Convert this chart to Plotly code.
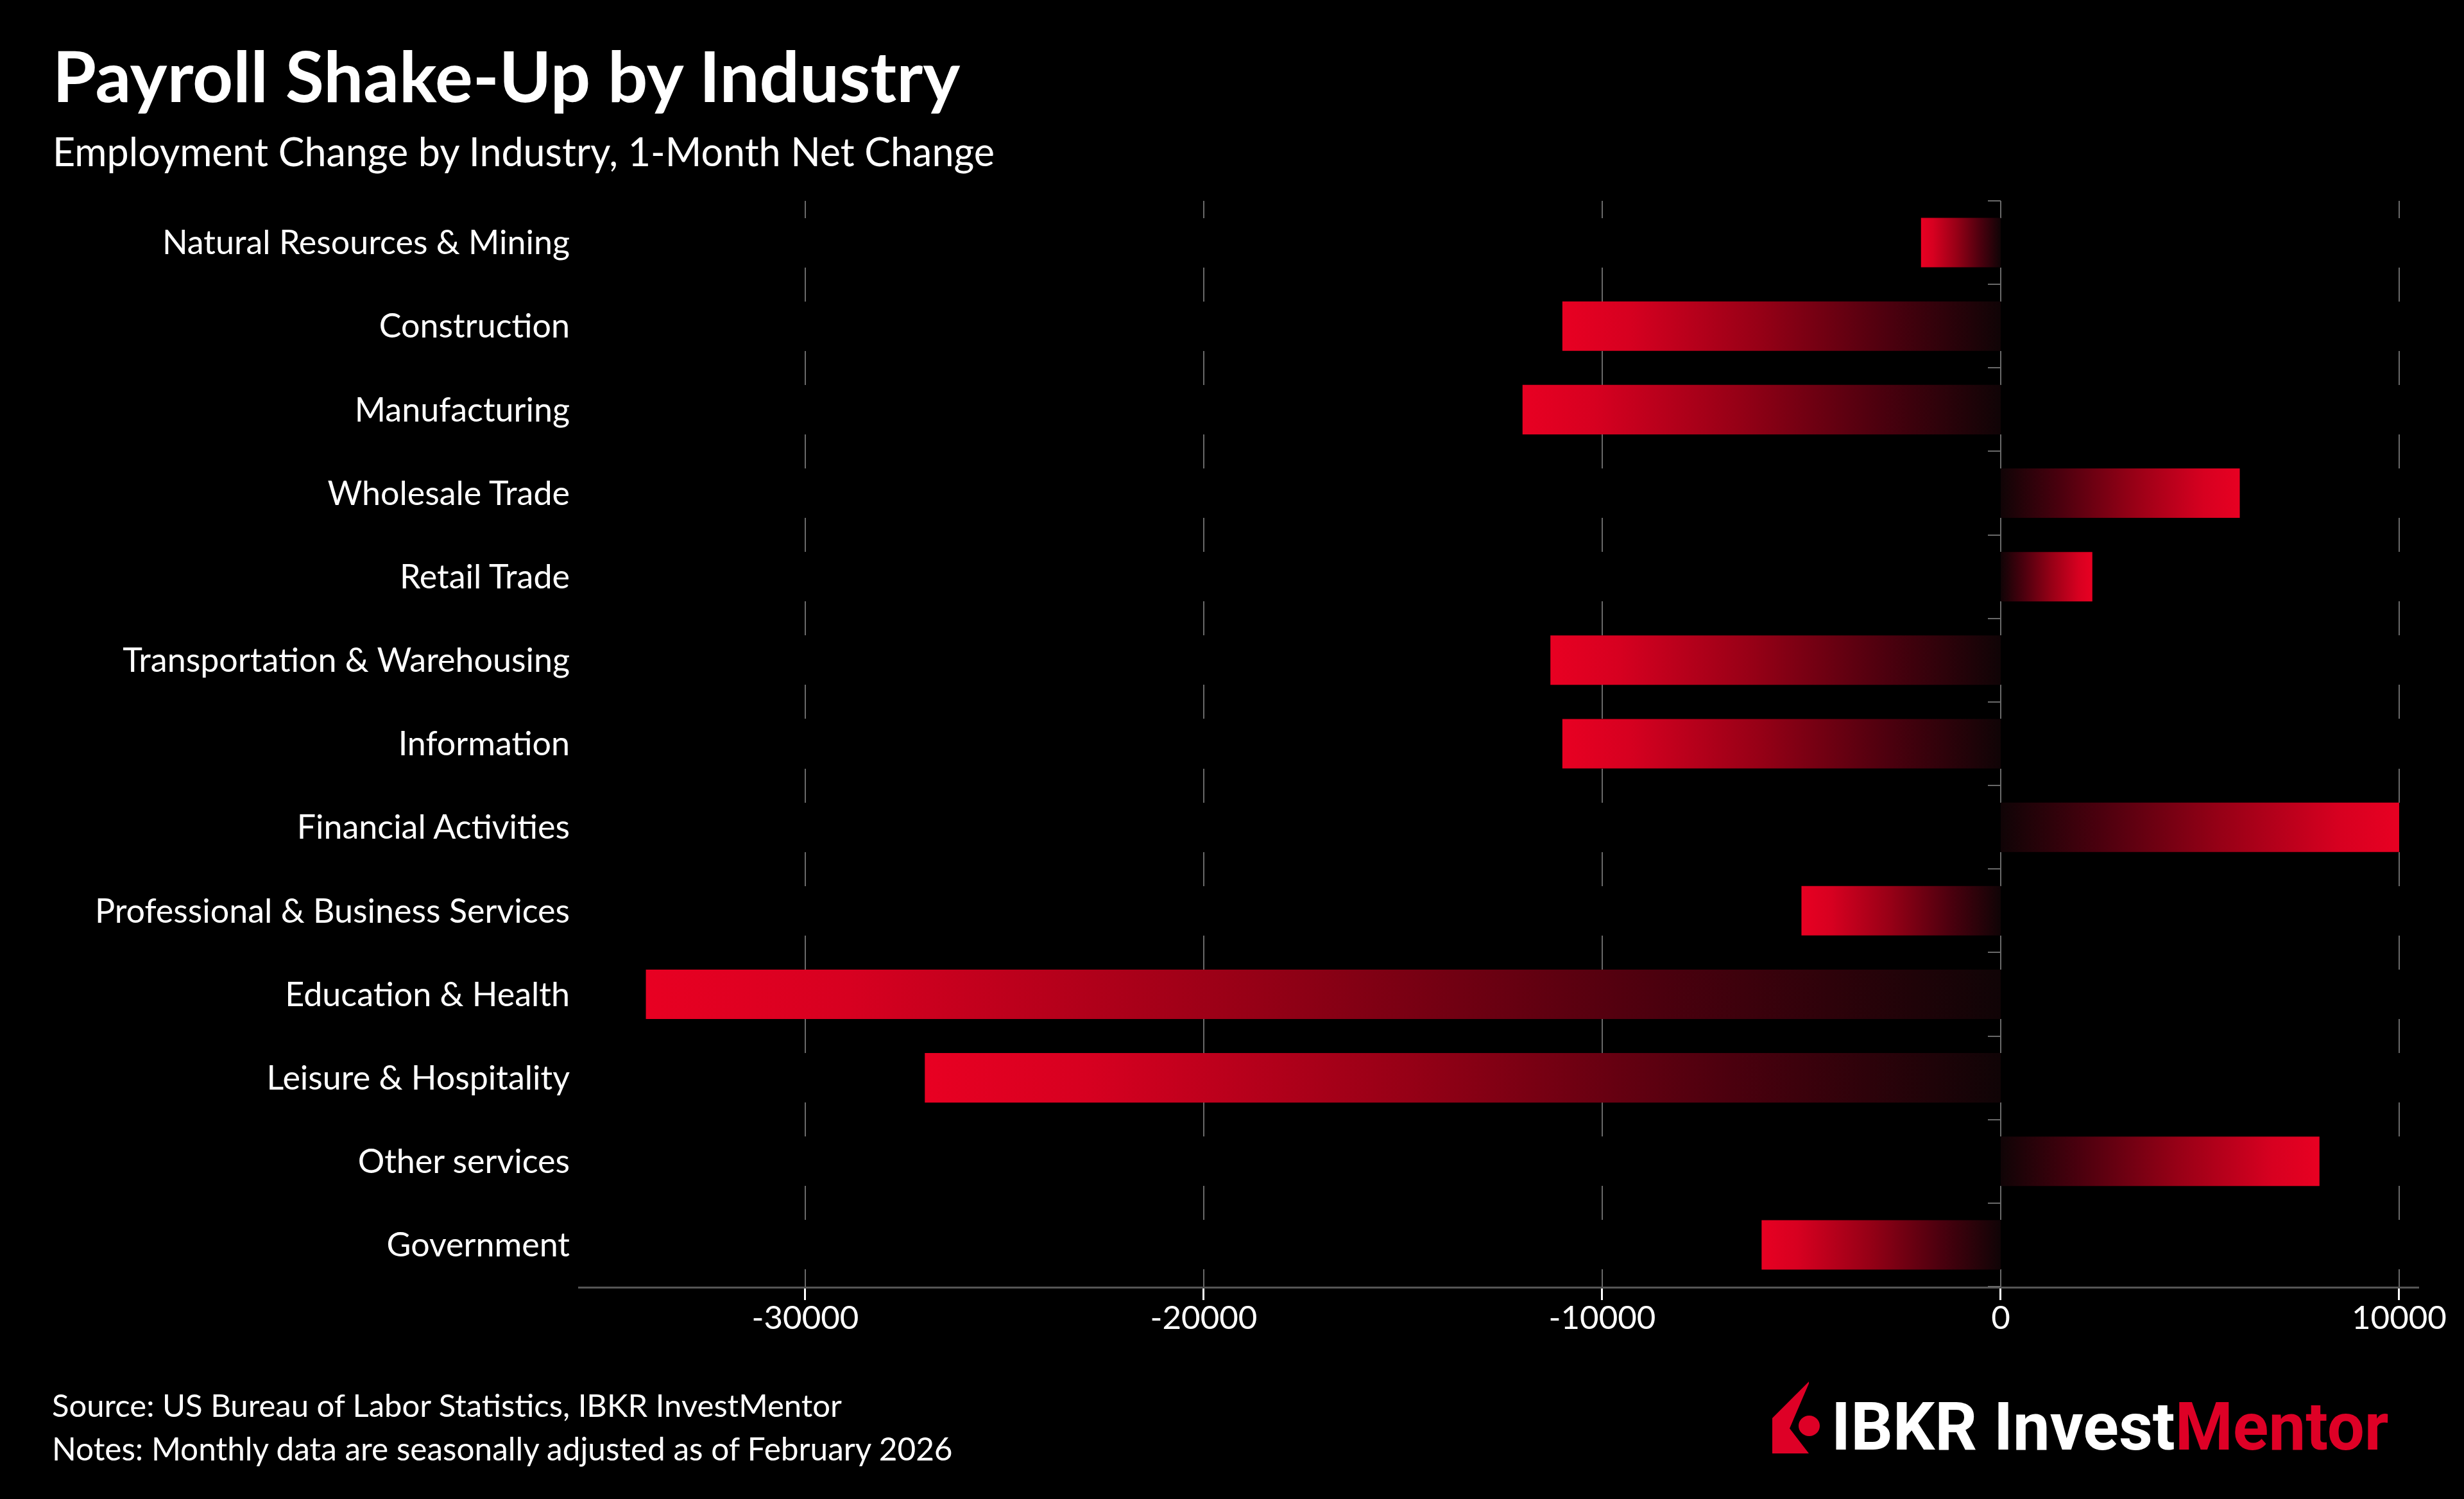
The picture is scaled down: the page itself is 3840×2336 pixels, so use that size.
import plotly.graph_objects as go

# ---------------- data ----------------
categories = [
    "Natural Resources & Mining",
    "Construction",
    "Manufacturing",
    "Wholesale Trade",
    "Retail Trade",
    "Transportation & Warehousing",
    "Information",
    "Financial Activities",
    "Professional & Business Services",
    "Education & Health",
    "Leisure & Hospitality",
    "Other services",
    "Government",
]
net_change = [-2000, -11000, -12000, 6000, 2300, -11300, -11000, 10000, -5000, -34000, -27000, 8000, -6000]
x_tick_values = [-30000, -20000, -10000, 0, 10000]
x_tick_labels = ["-30000", "-20000", "-10000", "0", "10000"]

title_text = "Payroll Shake-Up by Industry"
subtitle_text = "Employment Change by Industry, 1-Month Net Change"
source_text = "Source: US Bureau of Labor Statistics, IBKR InvestMentor"
notes_text = "Notes: Monthly data are seasonally adjusted as of February 2026"

# ---------------- layout constants ----------------
W, H = 3840, 2336
M_L, M_R, M_T, M_B = 901, 70, 313, 331
X_RANGE = [-35700, 10500]
BAR_HALF = 0.296
FONT = "Lato"
RED = "rgb(232,0,34)"
DARK = "rgb(16,4,6)"
GRID = "rgb(105,105,105)"

n = len(categories)
plot_w = W - M_L - M_R
plot_h = H - M_T - M_B


def paper_x(px):
    return (px - M_L) / plot_w


def paper_y(py):
    return 1 - (py - M_T) / plot_h


POS_SCALE = [[0.0, DARK], [0.25, "rgb(75,0,14)"], [0.55, "rgb(150,0,22)"], [0.85, "rgb(215,0,32)"], [1.0, RED]]
NEG_SCALE = [[1 - s, c] for s, c in reversed(POS_SCALE)]

fig = go.Figure()

for i, (cat, v) in enumerate(zip(categories, net_change)):
    xs = [0, v, v, 0, 0]
    ys = [i - BAR_HALF, i - BAR_HALF, i + BAR_HALF, i + BAR_HALF, i - BAR_HALF]
    fig.add_trace(
        go.Scatter(
            x=xs,
            y=ys,
            mode="lines",
            line=dict(width=0, color="rgba(0,0,0,0)"),
            fill="toself",
            fillgradient=dict(type="horizontal", colorscale=POS_SCALE if v > 0 else NEG_SCALE),
            name=cat,
            hoverinfo="skip",
            showlegend=False,
        )
    )

# invisible trace to carry the boundary-tick axis at x = 0
fig.add_trace(
    go.Scatter(x=[0], y=[0], yaxis="y2", mode="markers", marker=dict(opacity=0),
               hoverinfo="skip", showlegend=False)
)

band = plot_h / n
bar_px = 2 * BAR_HALF * band
gap_px = band - bar_px
grid_dash = f"{gap_px / 2:.2f}px,{bar_px:.2f}px,{gap_px / 2:.2f}px,0px"

zero_frac = (0 - X_RANGE[0]) / (X_RANGE[1] - X_RANGE[0])

fig.update_layout(
    width=W,
    height=H,
    margin=dict(l=M_L, r=M_R, t=M_T, b=M_B, pad=0),
    paper_bgcolor="black",
    plot_bgcolor="black",
    font=dict(family=FONT, color="white"),
    xaxis=dict(
        range=X_RANGE,
        tickvals=x_tick_values,
        ticktext=x_tick_labels,
        showgrid=True,
        gridcolor=GRID,
        gridwidth=2,
        griddash=grid_dash,
        zeroline=False,
        showline=True,
        linecolor="rgb(85,85,85)",
        linewidth=3,
        ticks="outside",
        ticklen=18,
        tickwidth=3,
        tickcolor="white",
        ticklabelstandoff=-16,
        tickfont=dict(family=FONT, size=51, color="white"),
        fixedrange=True,
    ),
    yaxis=dict(
        range=[n - 0.5, -0.5],
        tickvals=list(range(n)),
        ticktext=categories,
        showgrid=False,
        zeroline=False,
        showline=False,
        ticks="",
        ticklabelstandoff=12,
        tickfont=dict(family=FONT, size=52, color="white"),
        fixedrange=True,
    ),
    yaxis2=dict(
        overlaying="y",
        anchor="free",
        position=zero_frac,
        side="left",
        range=[n - 0.5, -0.5],
        tickvals=[i - 0.5 for i in range(n + 1)],
        ticks="outside",
        ticklen=20,
        tickwidth=2,
        tickcolor=GRID,
        showticklabels=False,
        showgrid=False,
        zeroline=False,
        showline=False,
        fixedrange=True,
    ),
    showlegend=False,
)

annotations = [
    dict(text=title_text, x=paper_x(80), y=paper_y(116), xanchor="left", yanchor="middle",
         font=dict(family=FONT, size=110, color="white", weight=700)),
    dict(text=subtitle_text, x=paper_x(80), y=paper_y(235), xanchor="left", yanchor="middle",
         font=dict(family=FONT, size=61, color="white")),
    dict(text=source_text, x=paper_x(79), y=paper_y(2189), xanchor="left", yanchor="middle",
         font=dict(family=FONT, size=49, color="white")),
    dict(text=notes_text, x=paper_x(79), y=paper_y(2257), xanchor="left", yanchor="middle",
         font=dict(family=FONT, size=49.5, color="white")),
    dict(text="IBKR Invest<span style='color:rgb(222,0,38)'>Mentor</span>", x=paper_x(3725), y=paper_y(2223),
         xanchor="right", yanchor="middle",
         font=dict(family="Roboto", size=103, color="white", weight=700)),
]
for a in annotations:
    a.update(xref="paper", yref="paper", showarrow=False)
fig.update_layout(annotations=annotations)

# logo mark
icon = [(2819, 2153), (2762, 2210), (2762, 2265), (2819, 2265), (2789, 2226), (2819, 2156)]
path = "M " + " L ".join(f"{paper_x(px):.5f},{paper_y(py):.5f}" for px, py in icon) + " Z"
fig.add_shape(type="path", path=path, xref="paper", yref="paper", fillcolor="rgb(222,0,38)", line=dict(width=0))
fig.add_shape(type="circle", xref="paper", yref="paper",
              x0=paper_x(2803), x1=paper_x(2836), y0=paper_y(2238), y1=paper_y(2206),
              fillcolor="rgb(222,0,38)", line=dict(width=0))

fig.write_html("out.html", config={"displayModeBar": False},
               post_script="document.body.style.margin='0';document.body.style.overflow='hidden';")
